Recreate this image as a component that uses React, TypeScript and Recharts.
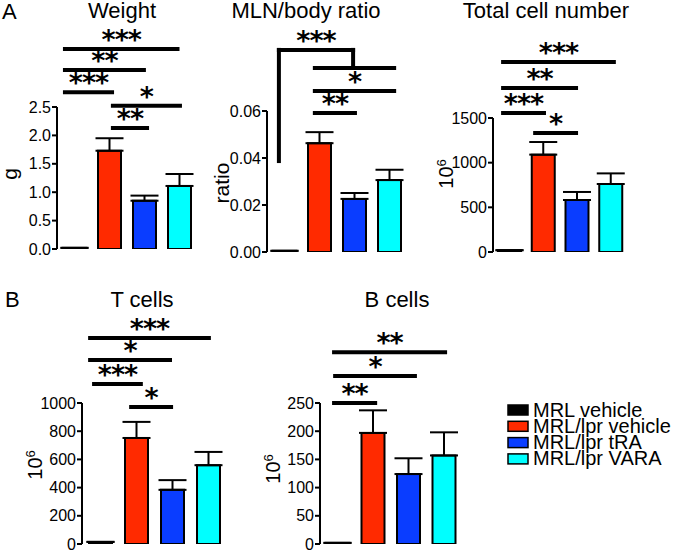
import React from "react";
import { BarChart, Bar, XAxis, YAxis, Cell, ErrorBar, ReferenceLine } from "recharts";

const W = 676;
const H = 550;
const FONT = "Liberation Sans, Arial, sans-serif";

const groups = ["MRL vehicle", "MRL/lpr vehicle", "MRL/lpr tRA", "MRL/lpr VARA"];
const colors = ["#000000", "#ff2a00", "#0a3dff", "#00ffff"];

// Weight (g)
const weightMean = [0.02, 1.73, 0.85, 1.11];
const weightSem = [0, 0.22, 0.09, 0.21];
const weightTicks = [0, 0.5, 1, 1.5, 2, 2.5];

// MLN/body ratio
const ratioMean = [0.0005, 0.0463, 0.0226, 0.0306];
const ratioSem = [0, 0.0047, 0.0025, 0.0044];
const ratioTicks = [0, 0.02, 0.04, 0.06];

// Total cell number (10^6)
const totalMean = [20, 1090, 582, 761];
const totalSem = [0, 141, 90, 119];
const totalTicks = [0, 500, 1000, 1500];

// T cells (10^6)
const tMean = [15, 752, 384, 559];
const tSem = [0, 114, 69, 94];
const tTicks = [0, 200, 400, 600, 800, 1000];

// B cells (10^6)
const bMean = [2, 197, 124, 157];
const bSem = [0, 40, 28, 41];
const bTicks = [0, 50, 100, 150, 200, 250];

type Bracket = { x1: number; x2: number; y1: number; y2?: number; stars?: string; cap?: boolean };

const weightBrackets: Bracket[] = [
  { x1: -0.33, x2: 3.0, y1: 3.52, stars: "***" },
  { x1: -0.33, x2: 2.04, y1: 3.15, stars: "**" },
  { x1: -0.33, x2: 1.13, y1: 2.76, stars: "***" },
  { x1: 1.04, x2: 3.07, y1: 2.52, stars: "*" },
  { x1: 1.04, x2: 2.13, y1: 2.13, stars: "**" },
];

const ratioBrackets: Bracket[] = [
  { x1: -0.16, x2: 1.96, y1: 0.086, stars: "***", cap: true },
  { x1: -0.16, x2: -0.16, y1: 0.086, y2: 0.0387, cap: true },
  { x1: 1.96, x2: 1.96, y1: 0.086, y2: 0.0783, cap: true },
  { x1: 0.81, x2: 3.19, y1: 0.0783 },
  { x1: 0.81, x2: 3.19, y1: 0.0685, stars: "*" },
  { x1: 0.81, x2: 2.07, y1: 0.0591, stars: "**" },
];

const totalBrackets: Bracket[] = [
  { x1: -0.26, x2: 3.14, y1: 2127, stars: "***" },
  { x1: -0.26, x2: 2.02, y1: 1836, stars: "**" },
  { x1: -0.26, x2: 1.07, y1: 1556, stars: "***" },
  { x1: 0.69, x2: 2.02, y1: 1332, stars: "*" },
];

const tBrackets: Bracket[] = [
  { x1: -0.33, x2: 3.08, y1: 1461, stars: "***" },
  { x1: -0.33, x2: 2.0, y1: 1305, stars: "*" },
  { x1: -0.22, x2: 1.19, y1: 1135, stars: "***" },
  { x1: 0.81, x2: 2.03, y1: 972, stars: "*" },
];

const bBrackets: Bracket[] = [
  { x1: -0.16, x2: 3.08, y1: 340, stars: "**" },
  { x1: -0.13, x2: 2.23, y1: 298, stars: "*" },
  { x1: -0.16, x2: 1.11, y1: 250, stars: "**" },
];

type Box = { left: number; top: number; right: number; bottom: number };

function Panel({
  box,
  mean,
  sem,
  ticks,
  fmt,
  brackets,
}: {
  box: Box;
  mean: number[];
  sem: number[];
  ticks: number[];
  fmt: (v: number) => string;
  brackets: Bracket[];
}) {
  const data = mean.map((v, i) => ({ x: i, v, e: [0, sem[i]] }));
  const yw = 50;
  return (
    <div style={{ position: "absolute", left: 0, top: 0 }}>
      <BarChart
        width={W}
        height={H}
        data={data}
        margin={{ top: box.top, left: box.left - yw, right: W - box.right, bottom: H - box.bottom }}
      >
        <XAxis
          type="number"
          dataKey="x"
          domain={[-0.5, 3.5]}
          tick={false}
          tickLine={false}
          height={0}
          axisLine={{ stroke: "#000", strokeWidth: 2 }}
        />
        <YAxis
          width={yw}
          type="number"
          domain={[0, ticks[ticks.length - 1]]}
          allowDataOverflow
          ticks={ticks}
          interval={0}
          tickFormatter={fmt}
          tickSize={5}
          tickMargin={1}
          axisLine={{ stroke: "#000", strokeWidth: 2 }}
          tickLine={{ stroke: "#000", strokeWidth: 2 }}
          tick={{ fill: "#000", fontSize: 16, fontFamily: FONT }}
        />
        {brackets.map((b, i) => (
          <ReferenceLine
            key={i}
            segment={[
              { x: b.x1, y: b.y1 },
              { x: b.x2, y: b.y2 ?? b.y1 },
            ]}
            ifOverflow="visible"
            stroke="#000"
            strokeWidth={4}
            shape={(p: any) => (
              <g>
                <line
                  x1={p.x1}
                  y1={p.y1}
                  x2={p.x2}
                  y2={p.y2}
                  stroke="#000"
                  strokeWidth={4}
                  strokeLinecap={b.cap ? "square" : "butt"}
                />
                {b.stars && (
                  <text
                    x={(p.x1 + p.x2) / 2}
                    y={p.y1}
                    textAnchor="middle"
                    fontFamily="DejaVu Sans"
                    fontWeight="bold"
                    fontSize={27}
                    letterSpacing={-1}
                    fill="#000"
                  >
                    {b.stars}
                  </text>
                )}
              </g>
            )}
          />
        ))}
        <Bar dataKey="v" barSize={23} stroke="#000" strokeWidth={2} isAnimationActive={false}>
          {data.map((d, i) => (
            <Cell key={i} fill={colors[i]} />
          ))}
          <ErrorBar dataKey="e" width={14} stroke="#000" strokeWidth={2} direction="y" />
        </Bar>
      </BarChart>
    </div>
  );
}

function Sup6({ x, y }: { x: number; y: number }) {
  return (
    <text transform={`translate(${x},${y}) rotate(-90)`} textAnchor="middle" fontSize={20} fontFamily={FONT}>
      10
      <tspan dy={-7} fontSize={13}>
        6
      </tspan>
    </text>
  );
}

export default function App() {
  return (
    <div style={{ position: "absolute", left: 0, top: 0, width: W, height: H, background: "#fff" }}>
      <Panel
        box={{ left: 57, top: 107, right: 197, bottom: 249 }}
        mean={weightMean}
        sem={weightSem}
        ticks={weightTicks}
        fmt={(v) => v.toFixed(1)}
        brackets={weightBrackets}
      />
      <Panel
        box={{ left: 267, top: 111, right: 407, bottom: 252 }}
        mean={ratioMean}
        sem={ratioSem}
        ticks={ratioTicks}
        fmt={(v) => v.toFixed(2)}
        brackets={ratioBrackets}
      />
      <Panel
        box={{ left: 493, top: 118, right: 628, bottom: 252 }}
        mean={totalMean}
        sem={totalSem}
        ticks={totalTicks}
        fmt={(v) => String(v)}
        brackets={totalBrackets}
      />
      <Panel
        box={{ left: 82, top: 403, right: 226, bottom: 544 }}
        mean={tMean}
        sem={tSem}
        ticks={tTicks}
        fmt={(v) => String(v)}
        brackets={tBrackets}
      />
      <Panel
        box={{ left: 320, top: 403, right: 462, bottom: 544 }}
        mean={bMean}
        sem={bSem}
        ticks={bTicks}
        fmt={(v) => String(v)}
        brackets={bBrackets}
      />
      <svg
        width={W}
        height={H}
        style={{ position: "absolute", left: 0, top: 0, pointerEvents: "none" }}
        fontFamily={FONT}
        fill="#000"
      >
        <text x={2} y={19} fontSize={22}>A</text>
        <text x={122} y={18} fontSize={22} textAnchor="middle">Weight</text>
        <text x={306} y={18} fontSize={22} textAnchor="middle">MLN/body ratio</text>
        <text x={546} y={18} fontSize={22} textAnchor="middle">Total cell number</text>
        <text x={5} y={307} fontSize={22}>B</text>
        <text x={142} y={307} fontSize={22} textAnchor="middle">T cells</text>
        <text x={397} y={307} fontSize={22} textAnchor="middle">B cells</text>

        <text transform="translate(17,174) rotate(-90)" textAnchor="middle" fontSize={21}>g</text>
        <text transform="translate(229,183) rotate(-90)" textAnchor="middle" fontSize={21}>ratio</text>
        <Sup6 x={453} y={174} />
        <Sup6 x={42} y={465} />
        <Sup6 x={280} y={469} />

        {groups.map((g, i) => (
          <g key={g}>
            <rect x={508} y={405 + i * 16.3} width={20} height={10} fill={colors[i]} stroke="#000" strokeWidth={1.5} />
            <text x={533} y={417 + i * 16} fontSize={20}>
              {g}
            </text>
          </g>
        ))}
      </svg>
    </div>
  );
}
